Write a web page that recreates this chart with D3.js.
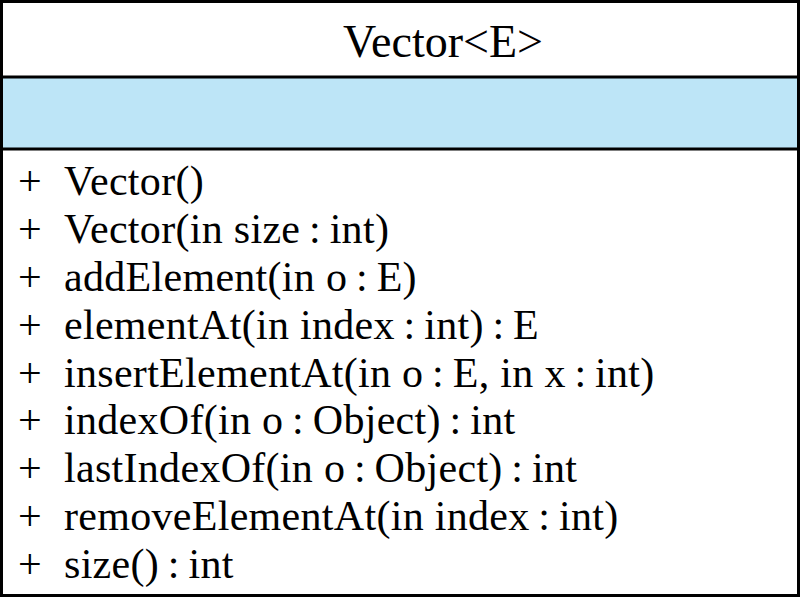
<!DOCTYPE html>
<html><head><meta charset="utf-8">
<script src="https://cdn.jsdelivr.net/npm/d3@7"></script>
<style>body{margin:0;background:#fff}</style>
</head><body>
<svg id="c" width="800" height="597"></svg>
<script>
const className = "Vector<E>";
const attributes = [];
const methods = [
  "Vector()",
  "Vector(in size : int)",
  "addElement(in o : E)",
  "elementAt(in index : int) : E",
  "insertElementAt(in o : E, in x : int)",
  "indexOf(in o : Object) : int",
  "lastIndexOf(in o : Object) : int",
  "removeElementAt(in index : int)",
  "size() : int"
];
const svg = d3.select("#c");
const font = "'Liberation Serif','DejaVu Serif',serif";
svg.append("rect").attr("x",0).attr("y",77).attr("width",800).attr("height",72).attr("fill","#bde5f7");
svg.append("rect").attr("x",1.5).attr("y",1.5).attr("width",797).attr("height",594).attr("fill","none").attr("stroke","#000").attr("stroke-width",3);
[77,149].forEach(y=>svg.append("line").attr("x1",0).attr("x2",800).attr("y1",y).attr("y2",y).attr("stroke","#000").attr("stroke-width",3));
svg.append("text").attr("x",443).attr("y",57).attr("text-anchor","middle").attr("font-family",font).attr("font-size",46).text(className);
const y = d3.scalePoint().domain(d3.range(methods.length)).range([195,578]);
const g = svg.selectAll("g.m").data(methods).join("g").attr("transform",(d,i)=>`translate(0,${y(i)})`);
g.append("text").attr("x",18).attr("font-family",font).attr("font-size",42).text("+");
g.append("text").attr("x",64).attr("font-family",font).attr("font-size",42).attr("textLength",null)
  .attr("letter-spacing",0.3).text(d=>d.replace(/ : /g,"\u2009:\u2009"));
</script>
</body></html>
